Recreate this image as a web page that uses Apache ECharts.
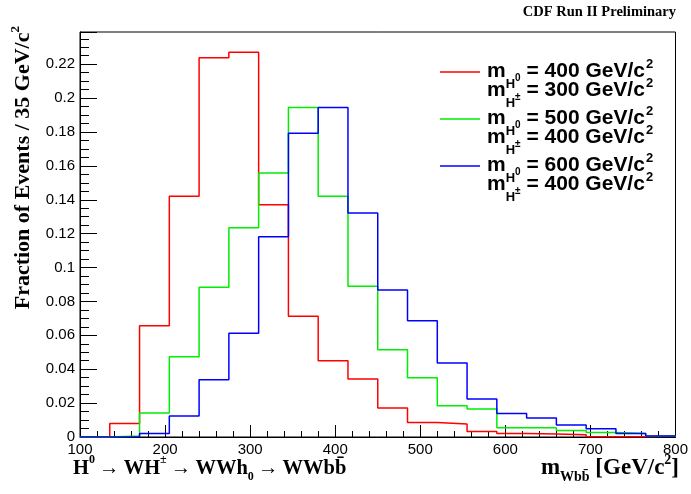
<!DOCTYPE html>
<html>
<head>
<meta charset="utf-8">
<script src="https://cdn.jsdelivr.net/npm/echarts@6/dist/echarts.min.js"></script>
<style>
html, body { margin: 0; padding: 0; background: #fff; }
#ct1 { width: 691px; height: 494px; }
</style>
</head>
<body>
<div id="ct1"></div>
<script>
// lower bin edges, 35 GeV/c^2 bins
var binEdges = [100, 135, 170, 205, 240, 275, 310, 345, 380, 415, 450, 485, 520, 555, 590, 625, 660, 695, 730, 765];
var xMax = 800;
var redVals = [0, 0.0079, 0.0657, 0.142, 0.2238, 0.227, 0.137, 0.0712, 0.045, 0.0342, 0.0171, 0.0085, 0.0077, 0.0033, 0.002, 0.0018, 0.0014, 0.0002, 0.0001, 0.0005];
var greenVals = [0, 0.0006, 0.0142, 0.0474, 0.0883, 0.1235, 0.1558, 0.1945, 0.142, 0.0889, 0.0515, 0.035, 0.0185, 0.0165, 0.0055, 0.0055, 0.0039, 0.0026, 0.002, 0.0004];
var blueVals = [0, 0.0001, 0.002, 0.0124, 0.0338, 0.0612, 0.1182, 0.1792, 0.1945, 0.1322, 0.0867, 0.0686, 0.0437, 0.0224, 0.0138, 0.0112, 0.0071, 0.0049, 0.002, 0.0006];
var legendMH0 = ['400', '500', '600'];
var legendMHpm = ['300', '400', '400'];
var colors = ['#ff0000', '#00ee00', '#0000ff'];

var sans = '"Liberation Sans", Arial, sans-serif';
var serif = '"Liberation Serif", "Times New Roman", serif';

function histData(vals) {
	var d = [];
	for (var i = 0; i < binEdges.length; i++) {
		d.push([binEdges[i], vals[i]]);
	}
	d.push([xMax, vals[vals.length - 1]]);
	return d;
}

function histSeries(vals, color) {
	return {
		type: 'line',
		step: 'end',
		data: histData(vals),
		symbol: 'none',
		animation: false,
		lineStyle: { color: color, width: 1.5 }
	};
}

// rich styles for legend text (main box centre at 16.5 px)
var legRich = {
	a: { fontFamily: sans, fontWeight: 'bold', fontSize: 21, lineHeight: 21, padding: [6, 0, 0, 0], verticalAlign: 'top', fill: '#000' },
	s2: { fontFamily: sans, fontWeight: 'bold', fontSize: 13, lineHeight: 13, padding: [3, 0, 0, 1], verticalAlign: 'top', fill: '#000' },
	h: { fontFamily: sans, fontWeight: 'bold', fontSize: 13, lineHeight: 13, padding: [23, 0, 0, 0], verticalAlign: 'top', fill: '#000' },
	h0: { fontFamily: sans, fontWeight: 'bold', fontSize: 10, lineHeight: 10, padding: [18, 0, 0, 0], verticalAlign: 'top', fill: '#000' }
};

// serif rich text, main glyph centre at 6 + size/2
function serifRich(size) {
	var small = Math.round(size * 0.6);
	var c = 6 + size / 2;
	return {
		a: { fontFamily: serif, fontWeight: 'bold', fontSize: size, lineHeight: size, padding: [6, 0, 0, 0], verticalAlign: 'top', fill: '#000' },
		up: { fontFamily: serif, fontWeight: 'bold', fontSize: small, lineHeight: small, padding: [Math.round(c - 8 - small / 2), 0, 0, 0], verticalAlign: 'top', fill: '#000' },
		dn: { fontFamily: serif, fontWeight: 'bold', fontSize: small, lineHeight: small, padding: [Math.round(c + 9 - small / 2), 0, 0, 0], verticalAlign: 'top', fill: '#000' }
	};
}

var legendY = [72, 119, 166];
var graphics = [];
for (var k = 0; k < 3; k++) {
	graphics.push({
		type: 'line', shape: { x1: 440, y1: legendY[k], x2: 480, y2: legendY[k] },
		style: { stroke: colors[k], lineWidth: 1.5 }, silent: true
	});
	graphics.push({
		type: 'text', x: 487, y: legendY[k] - 17,
		style: { text: '{a|m}{h|H}{h0|0}{a| = ' + legendMH0[k] + ' GeV/c}{s2|2}', rich: legRich, textVerticalAlign: 'top' }
	});
	graphics.push({
		type: 'text', x: 487, y: legendY[k] + 2,
		style: { text: '{a|m}{h|H}{h0|±}{a| = ' + legendMHpm[k] + ' GeV/c}{s2|2}', rich: legRich, textVerticalAlign: 'top' }
	});
}

graphics.push({
	type: 'text', x: 676, y: 12,
	style: { text: 'CDF Run II Preliminary', font: 'bold 14.5px ' + serif, fill: '#000', textAlign: 'right', textVerticalAlign: 'middle' }
});
graphics.push({
	type: 'text', x: 73, y: 468 - 16,
	style: { text: '{a|H}{up|0}{a|\u2009\u2192\u2009WH}{up|\u00b1}{a|\u2009\u2192\u2009WWh}{dn|0}{a|\u2009\u2192\u2009WWbb\u0304}', rich: serifRich(20.5), textVerticalAlign: 'top' }
});
graphics.push({
	type: 'text', x: 679, y: 468 - 17.5,
	style: { text: '{a|m}{dn|Wbb\u0304}{a| [GeV/c}{up|2}{a|]}', rich: serifRich(23), textAlign: 'right', textVerticalAlign: 'top' }
});
graphics.push({
	type: 'text', x: 23 - 17, y: 26, rotation: Math.PI / 2, originX: 0, originY: 0,
	style: { text: '{a|Fraction of Events / 35 GeV/c}{up|2}', rich: serifRich(22), textAlign: 'right', textVerticalAlign: 'top' }
});

var option1 = {
	backgroundColor: '#fff',
	animation: false,
	grid: { left: 80, top: 32, width: 596, height: 405, show: true, borderColor: '#000', borderWidth: 1, backgroundColor: 'transparent' },
	xAxis: {
		type: 'value', min: 100, max: 800, interval: 100,
		axisLine: { lineStyle: { color: '#000', width: 1 } },
		axisTick: { inside: true, length: 12, lineStyle: { color: '#000' } },
		minorTick: { show: true, splitNumber: 5, length: 6, lineStyle: { color: '#000' } },
		axisLabel: { fontFamily: sans, fontSize: 15, color: '#000', margin: 5 },
		splitLine: { show: false }
	},
	yAxis: {
		type: 'value', min: 0, max: 0.239, interval: 0.02,
		axisLine: { show: true, lineStyle: { color: '#000', width: 1 } },
		axisTick: { inside: true, length: 17, lineStyle: { color: '#000' } },
		minorTick: { show: true, splitNumber: 4, length: 9, lineStyle: { color: '#000' } },
		axisLabel: { fontFamily: sans, fontSize: 15, color: '#000', margin: 5, showMaxLabel: false },
		splitLine: { show: false }
	},
	series: [histSeries(redVals, colors[0]), histSeries(greenVals, colors[1]), histSeries(blueVals, colors[2])],
	graphic: graphics
};

var myChart1 = echarts.init(document.getElementById('ct1'));
myChart1.setOption(option1, true);
</script>
</body>
</html>
